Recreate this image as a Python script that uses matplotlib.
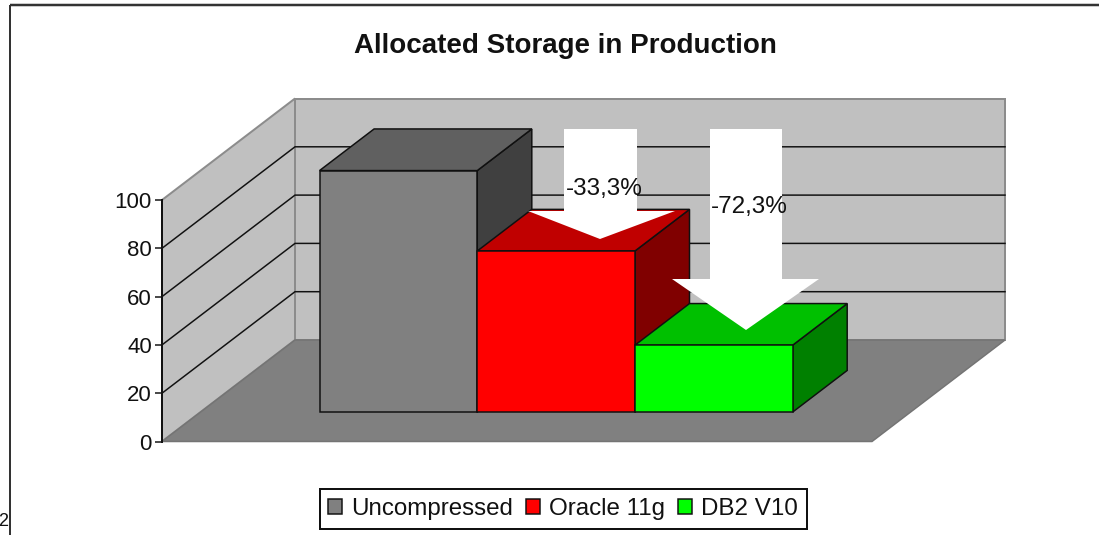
import matplotlib
matplotlib.use("Agg")
import matplotlib.pyplot as plt
from matplotlib.patches import Polygon, Patch

plt.rcParams['font.family'] = ['Liberation Sans', 'DejaVu Sans']

# data
categories = ["Uncompressed", "Oracle 11g", "DB2 V10"]
values = [100, 66.7, 27.7]
y_ticks = [0, 20, 40, 60, 80, 100]
change_labels = ["-33,3%", "-72,3%"]
title = "Allocated Storage in Production"

# styles
front_colors = ["#808080", "#FF0000", "#00FF00"]
top_colors = ["#606060", "#C00000", "#00C000"]
side_colors = ["#404040", "#800000", "#008000"]
W, H = 1099, 535
px = 1 / (100 / 72)  # points in one pixel


def P(i):
    return i * px


fig = plt.figure(figsize=(W / 100, H / 100), dpi=100, facecolor="white")

# Front plane of the 3-D box: x in category units, y in value units
L, R, T, B = 162, 872, 200, 441.5
ORIGIN = 281
ax = fig.add_axes([L / W, 1 - B / H, (R - L) / W, (B - T) / H])
unit = 157.7
ax.set_xlim((L - ORIGIN) / unit, (R - ORIGIN) / unit)
ax.set_ylim(0, 100)
ax.patch.set_visible(False)
DX, DY = 133 / unit, 101.5 / ((B - T) / 100)


def proj(x, v, d):
    """Oblique projection: d is depth, 0 at the front and 1 at the back wall."""
    return (x + d * DX, v + d * DY)


def face(pts, fc, ec, lw, z):
    ax.add_patch(Polygon([proj(*p) for p in pts], closed=True, facecolor=fc,
                         edgecolor=ec, linewidth=lw, zorder=z, clip_on=False,
                         joinstyle="miter"))


x0, x1 = ax.get_xlim()
wall_ec = "#8C8C8C"
face([(x0, 0, 1), (x1, 0, 1), (x1, 100, 1), (x0, 100, 1)], "#C0C0C0", wall_ec, P(2), 1)
face([(x0, 0, 0), (x0, 0, 1), (x0, 100, 1), (x0, 100, 0)], "#C0C0C0", wall_ec, P(2), 1)
face([(x0, 0, 0), (x1, 0, 0), (x1, 0, 1), (x0, 0, 1)], "#808080", "#747474", P(1.5), 2)

for t in y_ticks[1:-1]:
    xs, ys = zip(proj(x0, t, 0), proj(x0, t, 1), proj(x1, t, 1))
    ax.plot(xs, ys, color="#111111", lw=P(1.5), zorder=3, clip_on=False,
            solid_joinstyle="miter")

d0, d1 = 0.29, 0.70
for i, v in enumerate(values):
    a, b = i, i + 1
    ec = "#101010"
    face([(b, 0, d0), (b, 0, d1), (b, v, d1), (b, v, d0)], side_colors[i], ec, P(1.5), 4 + i)
    face([(a, v, d0), (b, v, d0), (b, v, d1), (a, v, d1)], top_colors[i], ec, P(1.5), 4 + i)
    face([(a, 0, d0), (b, 0, d0), (b, v, d0), (a, v, d0)], front_colors[i], ec, P(1.5), 4 + i)

for s in ("top", "right", "bottom"):
    ax.spines[s].set_visible(False)
ax.spines["left"].set_linewidth(P(2))
ax.spines["left"].set_color("#111111")
ax.spines["left"].set_zorder(8)
ax.set_xticks([])
ax.set_yticks(y_ticks)
ax.tick_params(axis="y", length=P(7), width=P(1.5), color="#111111", pad=P(3),
               labelsize=16, labelcolor="#111111")

# Overlay in pixel coordinates
ov = fig.add_axes([0, 0, 1, 1], zorder=10)
ov.set_xlim(0, W)
ov.set_ylim(H, 0)
ov.axis("off")

# Annotation arrows
arrows = [
    (564, 637, 129, 211, 528, 675, 600, 239),
    (710, 782, 129, 279, 672, 819, 746, 330),
]
for sl, sr, top, neck, wl, wr, tipx, tipy in arrows:
    ov.add_patch(Polygon([(sl, top), (sr, top), (sr, neck), (wr, neck), (tipx, tipy),
                          (wl, neck), (sl, neck)], closed=True, facecolor="white",
                         edgecolor="none", zorder=2))
ov.text(604, 189, change_labels[0], fontsize=17.5, ha="center", va="center",
        color="#111111", zorder=3)
ov.text(749.5, 207, change_labels[1], fontsize=17.5, ha="center", va="center",
        color="#111111", zorder=3)

# Title
ov.text(565.5, 46, title, fontsize=20, fontweight="bold", ha="center", va="center",
        color="#111111")

# Page rules of the surrounding document
ov.plot([9.5, W], [5, 5], color="#333333", lw=P(2.5), solid_capstyle="butt")
ov.plot([9.5, 9.5], [5, H], color="#333333", lw=P(2), solid_capstyle="butt")
ov.text(8.5, 522, "2", fontsize=13, ha="right", va="center", color="#111111")

# Legend
handles = [Patch(facecolor=c, edgecolor="#111111", linewidth=P(1.5)) for c in front_colors]
leg = ov.legend(handles, categories, ncol=3, loc="center",
                bbox_to_anchor=(563 / W, 1 - 509 / H), bbox_transform=fig.transFigure,
                fontsize=17.4, frameon=True, fancybox=False, edgecolor="#111111",
                framealpha=1, handlelength=0.58, handleheight=0.6, handletextpad=0.37,
                columnspacing=0.54, borderpad=0.36, borderaxespad=0)
leg.get_frame().set_linewidth(P(2))
for t in leg.get_texts():
    t.set_color("#111111")

fig.savefig("out.png", dpi=100, facecolor="white")
